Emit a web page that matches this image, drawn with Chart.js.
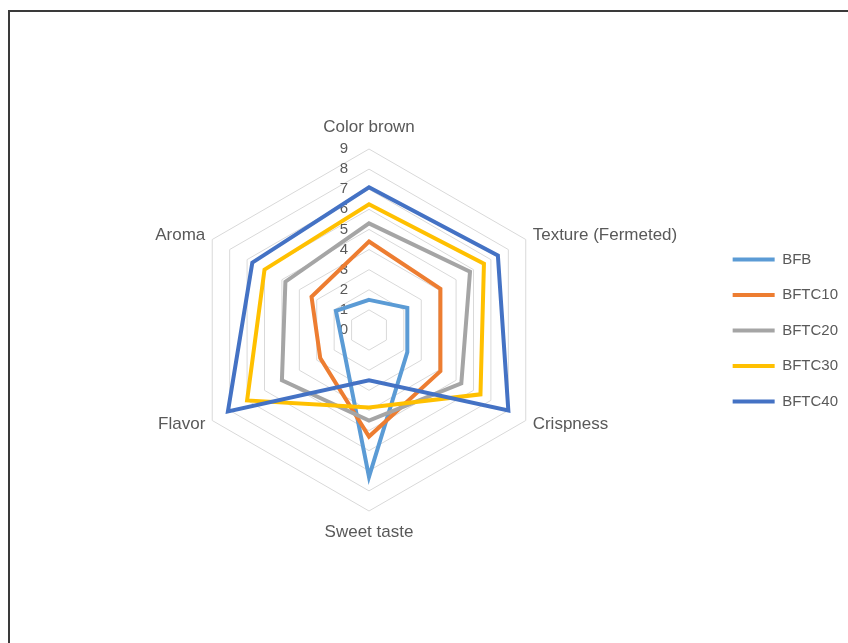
<!DOCTYPE html>
<html>
<head>
<meta charset="utf-8">
<script src="https://cdn.jsdelivr.net/npm/chart.js@4.4.0/dist/chart.umd.min.js"></script>
<style>
  html, body { margin: 0; padding: 0; background: #fff; overflow: hidden; }
  #wrap { position: relative; width: 848px; height: 643px; }
  #frame {
    position: absolute; left: 8px; top: 10px; width: 900px; height: 700px;
    border-top: 2px solid #3a3a3a; border-left: 2px solid #3a3a3a;
    pointer-events: none;
  }
  canvas { display: block; }
</style>
</head>
<body>
<div id="wrap">
  <canvas id="radarChart" width="848" height="643"></canvas>
  <div id="frame"></div>
</div>
<script>
// --- data ---
const attributes = ['Color brown', 'Texture (Fermeted)', 'Crispness', 'Sweet taste', 'Flavor', 'Aroma'];
const seriesNames = ['BFB', 'BFTC10', 'BFTC20', 'BFTC30', 'BFTC40'];
const bfb    = [1.5, 2.2, 2.2, 7.3, 1.5, 1.9];
const bftc10 = [4.4, 4.1, 4.1, 5.3, 2.8, 3.3];
const bftc20 = [5.3, 5.8, 5.3, 4.5, 5.0, 4.8];
const bftc30 = [6.25, 6.6, 6.4, 3.85, 7.0, 6.0];
const bftc40 = [7.1, 7.4, 8.0, 2.5, 8.1, 6.7];
const tickLabels = [0, 1, 2, 3, 4, 5, 6, 7, 8, 9];

const colors = ['#5B9BD5', '#ED7D31', '#A5A5A5', '#FFC000', '#4472C4'];
const seriesValues = [bfb, bftc10, bftc20, bftc30, bftc40];
const textGray = '#595959';
const fontFamily = '"Liberation Sans", Arial, sans-serif';

// axis numbers sit left of the vertical axis, under the lines (Excel style)
const tickLabelPlugin = {
    id: 'tickLabels',
    beforeDatasetsDraw(chart) {
        const scale = chart.scales.r;
        const ctx = chart.ctx;
        ctx.save();
        ctx.font = '15px ' + fontFamily;
        ctx.fillStyle = textGray;
        ctx.textAlign = 'center';
        ctx.textBaseline = 'middle';
        tickLabels.forEach(v => {
            const p = scale.getPointPositionForValue(0, v);
            ctx.fillText(String(v), p.x - 25, p.y);
        });
        ctx.restore();
    }
};

// category labels placed like Excel: centred on the vertex direction
const pointLabelPlugin = {
    id: 'pointLabelsExcel',
    afterDraw(chart) {
        const scale = chart.scales.r;
        const ctx = chart.ctx;
        ctx.save();
        ctx.font = '17px ' + fontFamily;
        ctx.fillStyle = textGray;
        ctx.textBaseline = 'middle';
        attributes.forEach((label, i) => {
            const p = scale.getPointPosition(i, scale.drawingArea + 8);
            let y = p.y;
            if (Math.abs(p.x - scale.xCenter) < 1) {
                ctx.textAlign = 'center';
                y += (p.y < scale.yCenter ? -13.5 : 13.5);
            } else {
                ctx.textAlign = p.x > scale.xCenter ? 'left' : 'right';
            }
            ctx.fillText(label, p.x, y);
        });
        ctx.restore();
    }
};

const ctx = document.getElementById('radarChart');
new Chart(ctx, {
    type: 'radar',
    data: {
        labels: attributes,
        datasets: seriesNames.map((name, i) => ({
            label: name,
            data: seriesValues[i],
            borderColor: colors[i],
            backgroundColor: colors[i],
            borderWidth: 4,
            fill: false,
            pointRadius: 0,
            pointHoverRadius: 0,
            order: seriesNames.length - i
        }))
    },
    options: {
        responsive: false,
        animation: false,
        layout: { padding: { top: 149, bottom: 131, left: 26, right: 0 } },
        scales: {
            r: {
                min: 0,
                max: 9,
                ticks: { stepSize: 1, display: false },
                grid: { color: '#d9d9d9', lineWidth: 1 },
                angleLines: { display: false },
                pointLabels: { display: false }
            }
        },
        plugins: {
            tooltip: { enabled: false },
            legend: {
                position: 'right',
                labels: {
                    boxWidth: 42,
                    boxHeight: 4,
                    padding: 20.5,
                    color: textGray,
                    font: { size: 15, family: fontFamily },
                    sort: (a, b) => a.datasetIndex - b.datasetIndex,
                    generateLabels: chart =>
                        Chart.defaults.plugins.legend.labels.generateLabels(chart)
                            .map(item => Object.assign(item, { lineWidth: 0 }))
                }
            }
        }
    },
    plugins: [tickLabelPlugin, pointLabelPlugin]
});
</script>
</body>
</html>
